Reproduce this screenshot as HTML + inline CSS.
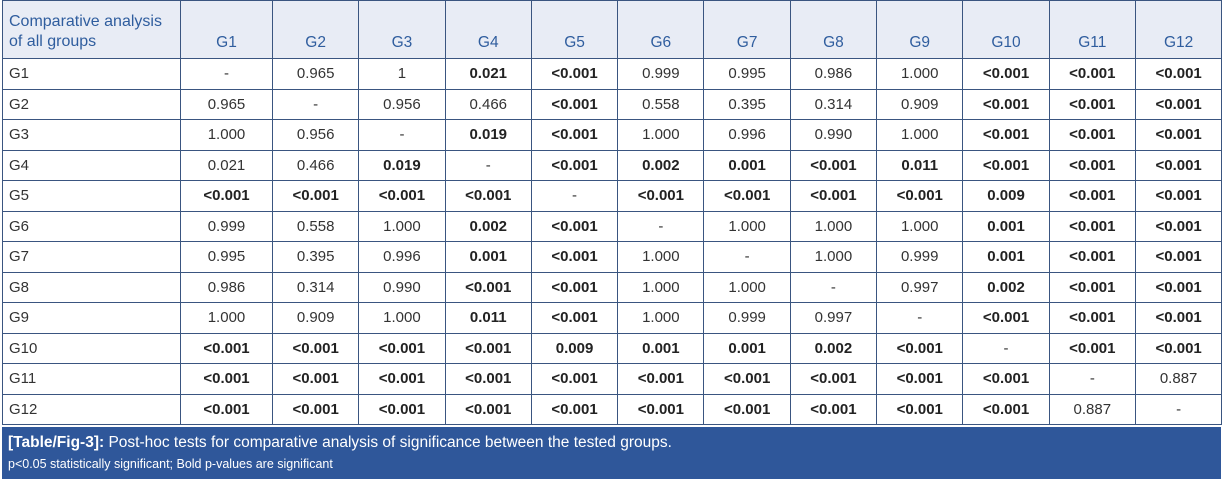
<!DOCTYPE html>
<html><head><style>
body{margin:0;width:1224px;height:479px;background:#fff;font-family:"Liberation Sans",sans-serif;overflow:hidden}
table{position:absolute;left:2px;top:0;border-collapse:collapse;table-layout:fixed;width:1219px}
td,th{border:1.5px solid #3a5580;height:29.5px;padding:0;text-align:center;font-size:15px;color:#333;font-weight:normal}
th{background:#e8ecf5;color:#2f5d9e;height:51px;vertical-align:bottom;padding-bottom:6px;font-size:15.5px}
th.f{text-align:left;padding-left:6px;line-height:20px;font-size:16px}
td.f{text-align:left;padding-left:6px}
b{font-weight:bold;color:#222}
.cap{position:absolute;left:2px;top:427px;width:1219px;height:52px;background:#2f579a;color:#fff}
.cap b{color:#fff}
.c1{position:absolute;left:6px;top:7px;font-size:15.5px}
.c2{position:absolute;left:6px;top:30px;font-size:12.5px}
</style></head><body>
<table>
<colgroup><col style="width:178px"><col style="width:92px"><col span="11" style="width:86.3px"></colgroup>
<tr><th class="f">Comparative analysis<br>of all groups</th><th>G1</th><th>G2</th><th>G3</th><th>G4</th><th>G5</th><th>G6</th><th>G7</th><th>G8</th><th>G9</th><th>G10</th><th>G11</th><th>G12</th></tr>
<tr><td class="f">G1</td><td>-</td><td>0.965</td><td>1</td><td><b>0.021</b></td><td><b>&lt;0.001</b></td><td>0.999</td><td>0.995</td><td>0.986</td><td>1.000</td><td><b>&lt;0.001</b></td><td><b>&lt;0.001</b></td><td><b>&lt;0.001</b></td></tr>
<tr><td class="f">G2</td><td>0.965</td><td>-</td><td>0.956</td><td>0.466</td><td><b>&lt;0.001</b></td><td>0.558</td><td>0.395</td><td>0.314</td><td>0.909</td><td><b>&lt;0.001</b></td><td><b>&lt;0.001</b></td><td><b>&lt;0.001</b></td></tr>
<tr><td class="f">G3</td><td>1.000</td><td>0.956</td><td>-</td><td><b>0.019</b></td><td><b>&lt;0.001</b></td><td>1.000</td><td>0.996</td><td>0.990</td><td>1.000</td><td><b>&lt;0.001</b></td><td><b>&lt;0.001</b></td><td><b>&lt;0.001</b></td></tr>
<tr><td class="f">G4</td><td>0.021</td><td>0.466</td><td><b>0.019</b></td><td>-</td><td><b>&lt;0.001</b></td><td><b>0.002</b></td><td><b>0.001</b></td><td><b>&lt;0.001</b></td><td><b>0.011</b></td><td><b>&lt;0.001</b></td><td><b>&lt;0.001</b></td><td><b>&lt;0.001</b></td></tr>
<tr><td class="f">G5</td><td><b>&lt;0.001</b></td><td><b>&lt;0.001</b></td><td><b>&lt;0.001</b></td><td><b>&lt;0.001</b></td><td>-</td><td><b>&lt;0.001</b></td><td><b>&lt;0.001</b></td><td><b>&lt;0.001</b></td><td><b>&lt;0.001</b></td><td><b>0.009</b></td><td><b>&lt;0.001</b></td><td><b>&lt;0.001</b></td></tr>
<tr><td class="f">G6</td><td>0.999</td><td>0.558</td><td>1.000</td><td><b>0.002</b></td><td><b>&lt;0.001</b></td><td>-</td><td>1.000</td><td>1.000</td><td>1.000</td><td><b>0.001</b></td><td><b>&lt;0.001</b></td><td><b>&lt;0.001</b></td></tr>
<tr><td class="f">G7</td><td>0.995</td><td>0.395</td><td>0.996</td><td><b>0.001</b></td><td><b>&lt;0.001</b></td><td>1.000</td><td>-</td><td>1.000</td><td>0.999</td><td><b>0.001</b></td><td><b>&lt;0.001</b></td><td><b>&lt;0.001</b></td></tr>
<tr><td class="f">G8</td><td>0.986</td><td>0.314</td><td>0.990</td><td><b>&lt;0.001</b></td><td><b>&lt;0.001</b></td><td>1.000</td><td>1.000</td><td>-</td><td>0.997</td><td><b>0.002</b></td><td><b>&lt;0.001</b></td><td><b>&lt;0.001</b></td></tr>
<tr><td class="f">G9</td><td>1.000</td><td>0.909</td><td>1.000</td><td><b>0.011</b></td><td><b>&lt;0.001</b></td><td>1.000</td><td>0.999</td><td>0.997</td><td>-</td><td><b>&lt;0.001</b></td><td><b>&lt;0.001</b></td><td><b>&lt;0.001</b></td></tr>
<tr><td class="f">G10</td><td><b>&lt;0.001</b></td><td><b>&lt;0.001</b></td><td><b>&lt;0.001</b></td><td><b>&lt;0.001</b></td><td><b>0.009</b></td><td><b>0.001</b></td><td><b>0.001</b></td><td><b>0.002</b></td><td><b>&lt;0.001</b></td><td>-</td><td><b>&lt;0.001</b></td><td><b>&lt;0.001</b></td></tr>
<tr><td class="f">G11</td><td><b>&lt;0.001</b></td><td><b>&lt;0.001</b></td><td><b>&lt;0.001</b></td><td><b>&lt;0.001</b></td><td><b>&lt;0.001</b></td><td><b>&lt;0.001</b></td><td><b>&lt;0.001</b></td><td><b>&lt;0.001</b></td><td><b>&lt;0.001</b></td><td><b>&lt;0.001</b></td><td>-</td><td>0.887</td></tr>
<tr><td class="f">G12</td><td><b>&lt;0.001</b></td><td><b>&lt;0.001</b></td><td><b>&lt;0.001</b></td><td><b>&lt;0.001</b></td><td><b>&lt;0.001</b></td><td><b>&lt;0.001</b></td><td><b>&lt;0.001</b></td><td><b>&lt;0.001</b></td><td><b>&lt;0.001</b></td><td><b>&lt;0.001</b></td><td>0.887</td><td>-</td></tr>
</table>
<div class="cap"><div class="c1"><b>[Table/Fig-3]:</b> Post-hoc tests for comparative analysis of significance between the tested groups.</div><div class="c2">p&lt;0.05 statistically significant; Bold p-values are significant</div></div>
</body></html>
